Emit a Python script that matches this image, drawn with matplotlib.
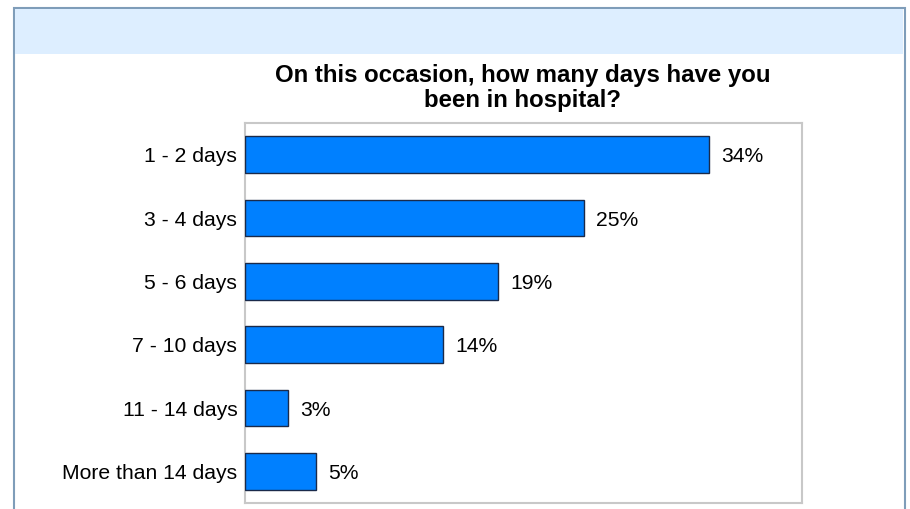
import matplotlib
matplotlib.use("Agg")
import matplotlib.pyplot as plt
from matplotlib.patches import Rectangle

categories = ["1 - 2 days", "3 - 4 days", "5 - 6 days", "7 - 10 days", "11 - 14 days", "More than 14 days"]
values = [34.0, 24.8, 18.5, 14.5, 3.15, 5.2]
labels = ["34%", "25%", "19%", "14%", "3%", "5%"]

plt.rcParams['font.family'] = ['Liberation Sans', 'DejaVu Sans']

W, H = 910, 509
fig = plt.figure(figsize=(W / 100, H / 100), dpi=100)
fig.patch.set_facecolor("white")

def fx(px):
    return px / W

def fy(py):
    return 1 - py / H

# outer frame
fig.patches.append(Rectangle((fx(13.5), fy(520)), fx(904.5) - fx(13.5), fy(7.5) - fy(520),
                             transform=fig.transFigure, facecolor="white",
                             edgecolor="#7f9db9", linewidth=1.5, zorder=0))
# top band
fig.patches.append(Rectangle((fx(15), fy(54)), fx(903) - fx(15), fy(9) - fy(54),
                             transform=fig.transFigure, facecolor="#ddeeff",
                             edgecolor="none", zorder=1))

left, right, top, bottom = 245, 802, 123, 503
ax = fig.add_axes([fx(left), fy(bottom), fx(right) - fx(left), fy(top) - fy(bottom)])
ax.set_zorder(5)
ax.set_facecolor("white")
y = list(range(len(categories)))
ax.barh(y, values, height=0.58, color="#0080ff", edgecolor="#1a2a4a", linewidth=1.0, zorder=3)
ax.set_ylim(len(categories) - 0.5, -0.5)
ax.set_xlim(0, 40.8)
ax.set_yticks(y)
ax.set_yticklabels(categories, fontsize=15.2)
ax.set_xticks([])
ax.tick_params(axis='y', length=0, pad=5.5)
for s in ax.spines.values():
    s.set_color("#c8c8c8")
    s.set_linewidth(1.5)

for yi, v, lab in zip(y, values, labels):
    ax.annotate(lab, (v, yi), xytext=(9, 0), textcoords="offset points",
                va="center_baseline", ha="left", fontsize=15.2)

fig.text(fx(523), fy(88), "On this occasion, how many days have you\nbeen in hospital?",
         ha="center", va="center", fontsize=17.3, fontweight="bold", linespacing=1.08,
         zorder=6)

fig.savefig("out.png", dpi=100)
